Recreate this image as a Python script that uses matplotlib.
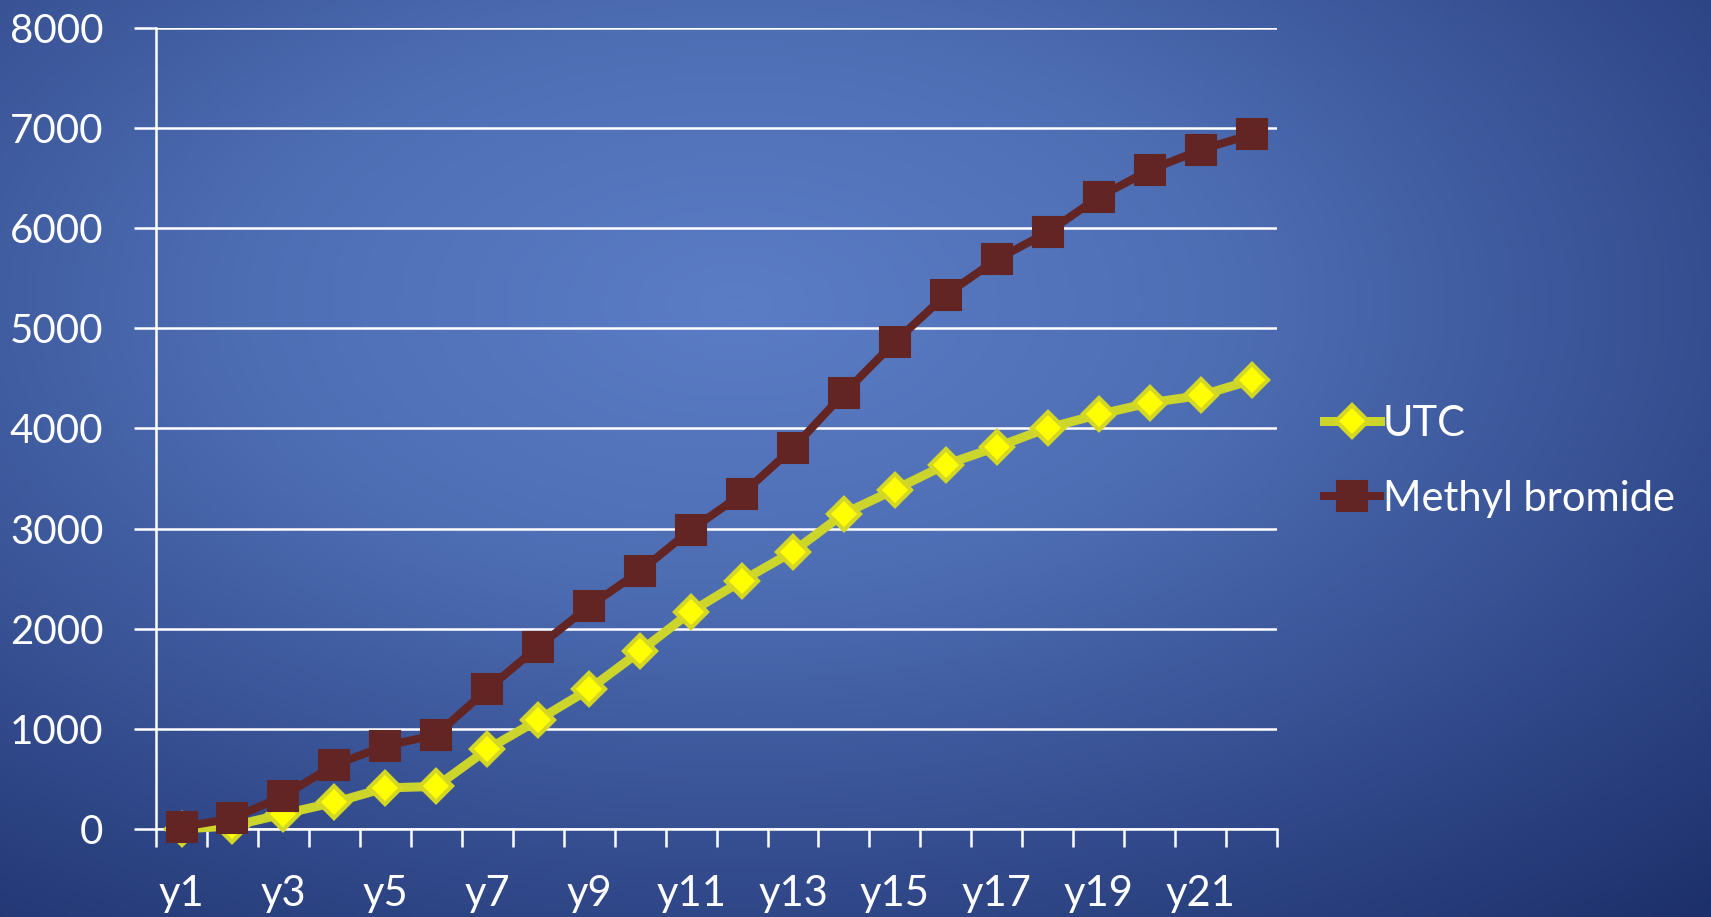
import numpy as np
import matplotlib.pyplot as plt
from matplotlib.colors import LinearSegmentedColormap

plt.rcParams['font.family'] = ['Lato', 'DejaVu Sans']

years = ["y%d" % i for i in range(1, 23)]
utc = [0, 30, 150, 265, 410, 425, 795, 1090, 1395, 1775, 2170, 2480,
       2770, 3150, 3390, 3640, 3815, 4005, 4140, 4256, 4330, 4482]
methyl_bromide = [20, 105, 330, 640, 830, 940, 1395, 1820, 2225, 2575, 2990, 3345,
                  3805, 4350, 4865, 5335, 5690, 5960, 6311, 6581, 6783, 6937]
y_ticks = [0, 1000, 2000, 3000, 4000, 5000, 6000, 7000, 8000]

fig = plt.figure(figsize=(17.11, 9.17), dpi=100)

# radial blue background
bg = fig.add_axes([0, 0, 1, 1], zorder=-10)
gx, gy = np.meshgrid(np.linspace(0, 1, 400), np.linspace(0, 1, 220))
r = np.sqrt(((gx - 0.43) / 0.85) ** 2 + ((gy - 0.33) / 0.9) ** 2)
bg_cmap = LinearSegmentedColormap.from_list("bg", ["#5b7dc5", "#4e6eb4", "#354e90", "#1d306b"])
bg.imshow(np.clip(r, 0, 1), cmap=bg_cmap, aspect="auto", extent=[0, 1, 0, 1], origin="upper")
bg.axis("off")

ax = fig.add_axes([0.0912, 0.096, 0.6552, 0.8735])
ax.patch.set_alpha(0)
x = np.arange(len(years))

ax.plot(x, utc, color="#ccd52c", lw=6.5, marker="D", markersize=16,
        markerfacecolor="#ffff00", markeredgecolor="#d4d824", markeredgewidth=3,
        label="UTC", clip_on=False, zorder=3)
ax.plot(x, methyl_bromide, color="#632523", lw=5.8, marker="s", markersize=21,
        markerfacecolor="#632523", markeredgecolor="#632523", markeredgewidth=1.5,
        label="Methyl bromide", clip_on=False, zorder=4)

ax.set_xlim(-0.5, len(years) - 0.5)
ax.set_ylim(0, 8000)
ax.set_yticks(y_ticks)
ax.set_yticklabels([str(v) for v in y_ticks])
ax.grid(axis="y", color="white", lw=1.8)
ax.set_axisbelow(True)

# tick marks between categories, labels on every other year
ax.set_xticks(np.arange(-0.5, len(years), 1))
ax.set_xticklabels([])
ax.set_xticks(x[::2], minor=True)
ax.set_xticklabels(years[::2], minor=True)
ax.tick_params(axis="x", which="major", direction="out", length=13, width=1.8, color="white")
ax.tick_params(axis="x", which="minor", length=0, pad=33, labelsize=30, labelcolor="white")
ax.tick_params(axis="y", direction="out", length=16, width=1.8, color="white",
               pad=22, labelsize=29, labelcolor="white")

for side in ["top", "right"]:
    ax.spines[side].set_visible(False)
for side in ["left", "bottom"]:
    ax.spines[side].set_color("white")
    ax.spines[side].set_linewidth(1.8)

leg = fig.legend(loc="center left", bbox_to_anchor=(0.752, 0.497), frameon=False,
                 fontsize=30, handlelength=1.35, handletextpad=0.05, labelspacing=0.9)
for t in leg.get_texts():
    t.set_color("white")

fig.savefig("out.png", dpi=100)
